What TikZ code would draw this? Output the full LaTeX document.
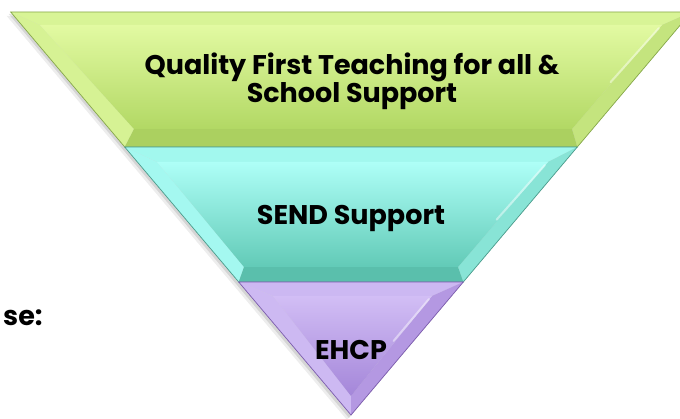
\documentclass[tikz,border=0pt]{standalone}
\usepackage{fontspec}
\setmainfont{Poppins}
\usetikzlibrary{calc}
\begin{document}
\begin{tikzpicture}[x=1pt,y=-1pt,
  bandtext/.style={font=\bfseries\fontsize{27}{32}\selectfont, text=black, align=center, inner sep=0pt},
  edgeline/.style={line width=0.7pt},
  glint/.style={white, opacity=0.45, line width=2pt, line cap=round}]
\definecolor{gEdge}{HTML}{86A84A}
\definecolor{gTop}{HTML}{D8F496}
\definecolor{gLeft}{HTML}{D6F294}
\definecolor{gRight}{HTML}{C4E47E}
\definecolor{gBot}{HTML}{ABD060}
\definecolor{gInT}{HTML}{E2FAA2}
\definecolor{gInB}{HTML}{B2D864}
\definecolor{cEdge}{HTML}{4A9C8C}
\definecolor{cTop}{HTML}{A2F8EE}
\definecolor{cLeft}{HTML}{A4F8F0}
\definecolor{cRight}{HTML}{88E4D6}
\definecolor{cBot}{HTML}{5ABFAC}
\definecolor{cInT}{HTML}{AEFFF7}
\definecolor{cInB}{HTML}{62CAB7}
\definecolor{pEdge}{HTML}{7C5CAE}
\definecolor{pTop}{HTML}{CCB8F2}
\definecolor{pLeft}{HTML}{CDB9F2}
\definecolor{pRight}{HTML}{B498E2}
\definecolor{pInT}{HTML}{D2BEF5}
\definecolor{pInB}{HTML}{A486D9}
\useasboundingbox (0,0) rectangle (680,419);
\fill[white] (0,0) rectangle (680,419);
\begin{scope}
\clip (0,0) rectangle (680,419);
% shadow
\fill[black,opacity=0.07] (6.7,16) -- (687.3,16) -- (347,420) -- cycle;
\fill[black,opacity=0.10] (8.7,14) -- (689.3,14) -- (349,418) -- cycle;
% ---------- green band ----------
\coordinate (gTL) at (10.7,12);  \coordinate (gTR) at (691.3,12);
\coordinate (gBR) at (577.3,147); \coordinate (gBL) at (124.7,147);
\coordinate (giTL) at (40,25);   \coordinate (giTR) at (662,25);
\coordinate (giBR) at (572,129); \coordinate (giBL) at (134,129);
\fill[gTop] (gTL) -- (gTR) -- (giTR) -- (giTL) -- cycle;
\fill[gLeft] (gTL) -- (giTL) -- (giBL) -- (gBL) -- cycle;
\fill[gRight] (gTR) -- (gBR) -- (giBR) -- (giTR) -- cycle;
\fill[gBot] (gBL) -- (giBL) -- (giBR) -- (gBR) -- cycle;
\shade[top color=gInT, bottom color=gInB] (giTL) -- (giTR) -- (giBR) -- (giBL) -- cycle;
\draw[glint] ($(giTR)+(-3,3)$) -- ($(giTR)!0.55!(giBR)+(-2,0)$);
\draw[gEdge, edgeline] (gTL) -- (gTR) -- (gBR) -- (gBL) -- cycle;
% ---------- cyan band ----------
\coordinate (cTL) at (124.7,147); \coordinate (cTR) at (577.3,147);
\coordinate (cBR) at (463.3,282); \coordinate (cBL) at (238.7,282);
\coordinate (ciTL) at (157,162);  \coordinate (ciTR) at (548,162);
\coordinate (ciBR) at (458,267);  \coordinate (ciBL) at (244,267);
\fill[cTop] (cTL) -- (cTR) -- (ciTR) -- (ciTL) -- cycle;
\fill[cLeft] (cTL) -- (ciTL) -- (ciBL) -- (cBL) -- cycle;
\fill[cRight] (cTR) -- (cBR) -- (ciBR) -- (ciTR) -- cycle;
\fill[cBot] (cBL) -- (ciBL) -- (ciBR) -- (cBR) -- cycle;
\shade[top color=cInT, bottom color=cInB] (ciTL) -- (ciTR) -- (ciBR) -- (ciBL) -- cycle;
\draw[glint] ($(ciTR)+(-3,3)$) -- ($(ciTR)!0.55!(ciBR)+(-2,0)$);
\draw[cEdge, edgeline] (cTL) -- (cTR) -- (cBR) -- (cBL) -- cycle;
% ---------- purple band ----------
\coordinate (pTL) at (238.7,282); \coordinate (pTR) at (463.3,282);
\coordinate (pA) at (351,415);
\coordinate (piTL) at (273,296); \coordinate (piTR) at (432,296);
\coordinate (piA) at (351,396);
\fill[pTop] (pTL) -- (pTR) -- (piTR) -- (piTL) -- cycle;
\fill[pLeft] (pTL) -- (piTL) -- (piA) -- (pA) -- cycle;
\fill[pRight] (pTR) -- (pA) -- (piA) -- (piTR) -- cycle;
\shade[top color=pInT, bottom color=pInB] (piTL) -- (piTR) -- (piA) -- cycle;
\draw[glint] ($(piTR)+(-3,3)$) -- ($(piTR)!0.45!(piA)+(-2,0)$);
\draw[pEdge, edgeline] (pTL) -- (pTR) -- (pA) -- cycle;
\end{scope}
% ---------- text ----------
\node[bandtext, anchor=base] (q1) at (352,75) {Quality First Teaching for all \&};
\node[bandtext, anchor=base] (q2) at (352,103) {School Support};
\node[bandtext, anchor=base] (send) at (351,225) {SEND Support};
\node[bandtext, anchor=base] (ehcp) at (351,360) {EHCP};
\node[font=\bfseries\fontsize{27}{30}\selectfont, anchor=base west, inner sep=0pt] (se) at (3,326) {se:};
\end{tikzpicture}
\end{document}
